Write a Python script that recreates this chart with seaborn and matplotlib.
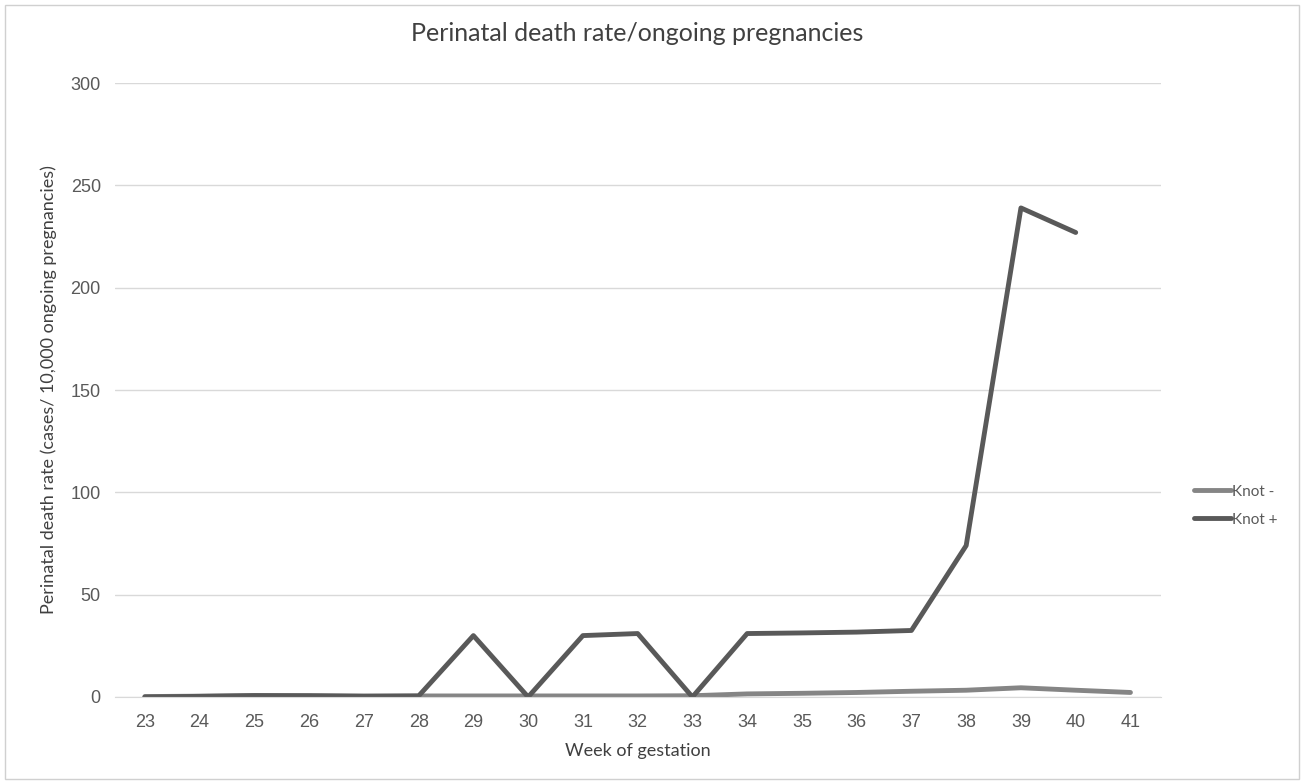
import pandas as pd
import numpy as np
import seaborn as sns
import matplotlib.pyplot as plt
from matplotlib.patches import Rectangle

# data
weeks = [23, 24, 25, 26, 27, 28, 29, 30, 31, 32, 33, 34, 35, 36, 37, 38, 39, 40, 41]
knot_minus = [0.2, 0.4, 0.6, 0.6, 0.5, 0.5, 0.5, 0.5, 0.5, 0.5, 0.6, 1.5, 1.8, 2.2, 2.8, 3.3, 4.5, 3.3, 2.2]
knot_plus = [0.0, 0.3, 0.7, 0.6, 0.3, 0.5, 30, 0.0, 30, 31, 0.0, 31, 31.3, 31.7, 32.5, 74, 239, 227, np.nan]
y_ticks = [0, 50, 100, 150, 200, 250, 300]

df = pd.DataFrame({
    'Week': [str(w) for w in weeks] * 2,
    'Rate': knot_minus + knot_plus,
    'Series': ['Knot -'] * len(weeks) + ['Knot +'] * len(weeks),
})

sns.set_style('white')
plt.rcParams['font.family'] = ['Lato', 'DejaVu Sans']

fig = plt.figure(figsize=(13.04, 7.84), dpi=100)
ax = fig.add_axes([0.088, 0.111, 0.802, 0.783])

sns.lineplot(data=df, x='Week', y='Rate', hue='Series', sort=False,
             palette={'Knot -': '#858585', 'Knot +': '#595959'},
             linewidth=3.5, ax=ax, legend=False)

ax.set_ylim(0, 300)
ax.set_xlim(-0.55, len(weeks) - 0.45)
ax.set_xticks(range(len(weeks)), [str(w) for w in weeks], fontfamily='Liberation Sans')
ax.set_yticks(y_ticks, [str(v) for v in y_ticks], fontfamily='Liberation Sans')
ax.grid(axis='y', color='#d9d9d9', linewidth=1)
ax.set_axisbelow(True)
for s in ['top', 'right', 'left']:
    ax.spines[s].set_visible(False)
ax.spines['bottom'].set_color('#d9d9d9')
ax.tick_params(axis='both', length=0, labelsize=13, colors='#595959')
ax.tick_params(axis='x', pad=12)
ax.tick_params(axis='y', pad=10)

ax.set_xlabel('Week of gestation', fontsize=13, color='#404040', labelpad=9)
ax.set_ylabel('Perinatal death rate (cases/ 10,000 ongoing pregnancies)', fontsize=13, color='#404040', labelpad=10)
ax.set_title('Perinatal death rate/ongoing pregnancies', fontsize=18, color='#404040', pad=30)

handles = [plt.Line2D([], [], color='#858585', lw=3.5), plt.Line2D([], [], color='#595959', lw=3.5)]
fig.legend(handles, ['Knot -', 'Knot +'], loc='center left', bbox_to_anchor=(0.905, 0.355),
           frameon=False, fontsize=11, handlelength=2.4, handletextpad=0.1, labelspacing=0.9,
           labelcolor='#595959')

fig.patches.append(Rectangle((0.004, 0.006), 0.992, 0.988, transform=fig.transFigure,
                             fill=False, edgecolor='#d0d0d0', linewidth=1))

plt.savefig('out.png', dpi=100)
